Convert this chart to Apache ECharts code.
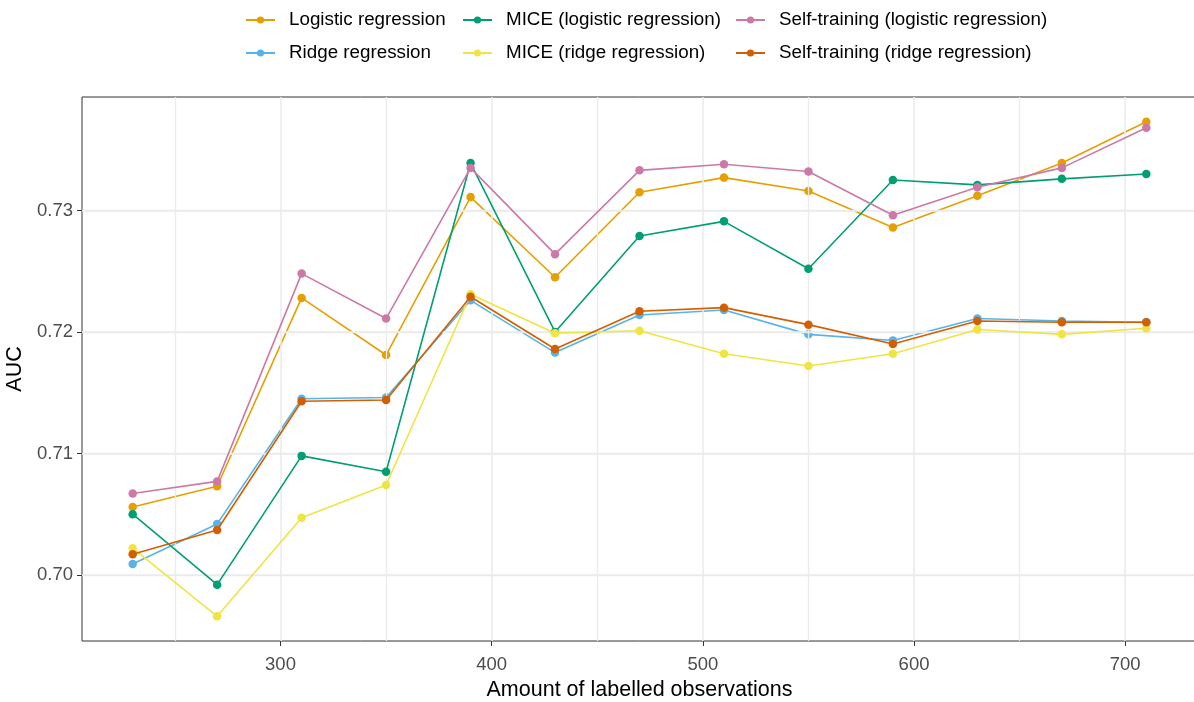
<!DOCTYPE html>
<html>
<head>
<meta charset="utf-8">
<script src="https://cdn.jsdelivr.net/npm/echarts@6/dist/echarts.min.js"></script>
<style>
  html, body { margin: 0; padding: 0; background: #ffffff; overflow: hidden; }
  #chart { width: 1194px; height: 702px; }
</style>
</head>
<body>
<div id="chart"></div>
<script>
// Labelled-set sizes (x) and AUC for each method
const sizes = [230, 270, 310, 350, 390, 430, 470, 510, 550, 590, 630, 670, 710];

const logisticReg   = [0.7056, 0.7073, 0.7228, 0.7181, 0.7311, 0.7245, 0.7315, 0.7327, 0.7316, 0.7286, 0.7312, 0.7339, 0.7373];
const ridgeReg      = [0.7009, 0.7042, 0.7145, 0.7146, 0.7226, 0.7183, 0.7214, 0.7218, 0.7198, 0.7193, 0.7211, 0.7209, 0.7208];
const miceLogistic  = [0.7050, 0.6992, 0.7098, 0.7085, 0.7339, 0.7200, 0.7279, 0.7291, 0.7252, 0.7325, 0.7321, 0.7326, 0.7330];
const miceRidge     = [0.7022, 0.6966, 0.7047, 0.7074, 0.7231, 0.7199, 0.7201, 0.7182, 0.7172, 0.7182, 0.7202, 0.7198, 0.7203];
const selfLogistic  = [0.7067, 0.7077, 0.7248, 0.7211, 0.7335, 0.7264, 0.7333, 0.7338, 0.7332, 0.7296, 0.7319, 0.7335, 0.7368];
const selfRidge     = [0.7017, 0.7037, 0.7143, 0.7144, 0.7229, 0.7186, 0.7217, 0.7220, 0.7206, 0.7190, 0.7209, 0.7208, 0.7208];

const seriesNames = [
  'Logistic regression', 'Ridge regression',
  'MICE (logistic regression)', 'MICE (ridge regression)',
  'Self-training (logistic regression)', 'Self-training (ridge regression)'
];
const seriesValues = [logisticReg, ridgeReg, miceLogistic, miceRidge, selfLogistic, selfRidge];
const seriesColors = ['#E69F00', '#56B4E9', '#009E73', '#F0E442', '#CC79A7', '#D55E00'];

// Axis breaks
const xMajor = [300, 400, 500, 600, 700];
const xMinor = [250, 350, 450, 550, 650];
const yMajor = [0.70, 0.71, 0.72, 0.73];
const yMinor = [0.695, 0.705, 0.715, 0.725, 0.735];

// Ranges padded by 5% on each side
function padded(vals) {
  const lo = Math.min(...vals), hi = Math.max(...vals);
  const pad = (hi - lo) * 0.05;
  return [lo - pad, hi + pad];
}
const xRange = padded(sizes);
const yRange = padded([].concat(...seriesValues));

const FONT = 'Liberation Sans, Arial, sans-serif';
const GRID_COLOR = '#EBEBEB';

// Background grid lines, drawn as mark lines on hidden carrier series
function gridSeries(id, items, width) {
  return {
    id: id,
    name: id,
    type: 'line',
    z: 1,
    silent: true,
    showSymbol: false,
    lineStyle: { opacity: 0 },
    data: sizes.map((x, i) => [x, logisticReg[i]]),
    markLine: {
      silent: true,
      symbol: ['none', 'none'],
      label: { show: false },
      lineStyle: { color: GRID_COLOR, type: 'solid', width: width },
      emphasis: { disabled: true },
      animation: false,
      data: items
    }
  };
}

const series = [
  gridSeries('__gridXMinor', xMinor.map(v => ({ xAxis: v })), 1.3),
  gridSeries('__gridYMinor', yMinor.map(v => ({ yAxis: v })), 1.3),
  gridSeries('__gridXMajor', xMajor.map(v => ({ xAxis: v })), 1.6),
  gridSeries('__gridYMajor', yMajor.map(v => ({ yAxis: v })), 1.6)
];

seriesNames.forEach((name, k) => {
  series.push({
    name: name,
    type: 'line',
    z: 3 + k,
    data: sizes.map((x, i) => [x, seriesValues[k][i]]),
    symbol: 'circle',
    symbolSize: 8.5,
    showAllSymbol: true,
    color: seriesColors[k],
    lineStyle: { width: 1.6, color: seriesColors[k] },
    itemStyle: { color: seriesColors[k] },
    emphasis: { disabled: true }
  });
});

const legendCommon = {
  orient: 'vertical',
  top: 10,
  padding: 0,
  itemWidth: 29,
  itemHeight: 9,
  itemGap: 13,
  selectedMode: false,
  textStyle: { fontFamily: FONT, fontSize: 18.8, color: '#000000', lineHeight: 20, padding: [0, 0, 0, 9] }
};

const option = {
  animation: false,
  backgroundColor: '#ffffff',
  legend: [
    Object.assign({}, legendCommon, { left: 245, data: [seriesNames[0], seriesNames[1]] }),
    Object.assign({}, legendCommon, { left: 462, data: [seriesNames[2], seriesNames[3]] }),
    Object.assign({}, legendCommon, { left: 735, data: [seriesNames[4], seriesNames[5]] })
  ],
  grid: {
    left: 82, right: -3, top: 97, bottom: 61,
    outerBoundsMode: 'none',
    containLabel: false,
    show: true, borderColor: '#333333', borderWidth: 1, backgroundColor: 'transparent'
  },
  xAxis: {
    type: 'value',
    min: xRange[0],
    max: xRange[1],
    name: 'Amount of labelled observations',
    nameLocation: 'middle',
    nameGap: 38,
    nameTextStyle: { fontFamily: FONT, fontSize: 21.5, color: '#000000' },
    axisLine: { show: false },
    axisTick: { show: true, length: 5, lineStyle: { color: '#333333', width: 1 }, customValues: xMajor },
    axisLabel: {
      fontFamily: FONT, fontSize: 18.5, color: '#4D4D4D', margin: 14,
      customValues: xMajor
    },
    splitLine: { show: false }
  },
  yAxis: {
    type: 'value',
    min: yRange[0],
    max: yRange[1],
    name: 'AUC',
    nameLocation: 'middle',
    nameGap: 49,
    nameRotate: 90,
    nameTextStyle: { fontFamily: FONT, fontSize: 21.5, color: '#000000' },
    axisLine: { show: false },
    axisTick: { show: true, length: 5, lineStyle: { color: '#333333', width: 1 }, customValues: yMajor },
    axisLabel: {
      fontFamily: FONT, fontSize: 18.5, color: '#4D4D4D', margin: 9,
      customValues: yMajor,
      formatter: v => v.toFixed(2)
    },
    splitLine: { show: false }
  },
  series: series
};

const chart = echarts.init(document.getElementById('chart'), null, { renderer: 'canvas' });
chart.setOption(option);
</script>
</body>
</html>
